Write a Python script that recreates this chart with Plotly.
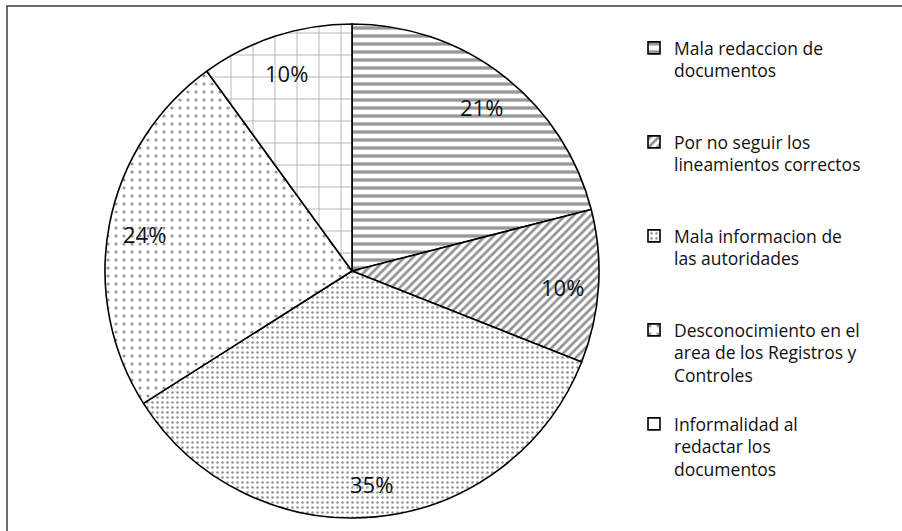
import math
import plotly.graph_objects as go

# Causes and their share of the total (percent)
categorias = [
    "Mala redaccion de<br>documentos",
    "Por no seguir los<br>lineamientos correctos",
    "Mala informacion de<br>las autoridades",
    "Desconocimiento en el<br>area de los Registros y<br>Controles",
    "Informalidad al<br>redactar los<br>documentos",
]
porcentajes = [21, 10, 35, 24, 10]

# Fill patterns per slice (black on white)
patron_forma = ["-", "/", ".", ".", "+"]
patron_tamano = [8, 6, 5, 8, 22]
patron_solidez = [0.42, 0.45, 0.2, 0.12, 0.07]
patron_color = ["#333333", "#262626", "#222222", "#262626", "#4a4a4a"]

W, H = 902, 531
CX, CY, R = 352, 271, 247  # pie centre and radius in pixels
FONT = "Open Sans"

# pad every legend entry to the same number of lines so entries are evenly spaced
def lineas(s):
    return s.count("<br>") + 1

etiquetas = [c + "<br> " * (4 - lineas(c)) for c in categorias]

fig = go.Figure()
fig.add_trace(go.Pie(
    labels=etiquetas,
    values=porcentajes,
    sort=False,
    direction="clockwise",
    rotation=0,
    textinfo="none",
    hoverinfo="label+percent",
    domain=dict(x=[(CX - R) / W, (CX + R) / W], y=[1 - (CY + R) / H, 1 - (CY - R) / H]),
    marker=dict(
        colors=["white"] * len(porcentajes),
        line=dict(color="black", width=1.6),
        pattern=dict(
            shape=patron_forma,
            size=patron_tamano,
            solidity=patron_solidez,
            fgcolor=patron_color,
            bgcolor="white",
            fillmode="overlay",
        ),
    ),
))

# percentage labels placed towards the outer edge of each slice
total = sum(porcentajes)
acum = 0
anotaciones = []
for v in porcentajes:
    theta = math.radians(360 * (acum + v / 2) / total)
    acum += v
    px = CX + 0.855 * R * math.sin(theta)
    py = CY - 0.855 * R * math.cos(theta) + 3
    anotaciones.append(dict(
        x=px / W, y=1 - py / H, xref="paper", yref="paper",
        text=f"{round(100 * v / total)}%", showarrow=False,
        font=dict(family=FONT, size=22, color="#111"),
        xanchor="center", yanchor="middle",
    ))

fig.update_layout(
    width=W, height=H,
    margin=dict(l=0, r=0, t=0, b=0),
    paper_bgcolor="white",
    plot_bgcolor="white",
    font=dict(family=FONT, color="#111"),
    showlegend=True,
    legend=dict(
        x=634 / W, xanchor="left",
        y=1 - 30 / H, yanchor="top",
        font=dict(family=FONT, size=17.5, color="#111"),
        valign="top",
        bgcolor="rgba(0,0,0,0)",
        traceorder="normal",
    ),
    annotations=anotaciones,
    shapes=[dict(
        type="rect", xref="paper", yref="paper",
        x0=7 / W, x1=1.05, y0=-0.05, y1=1 - 6 / H,
        line=dict(color="#3c3c3c", width=1.5),
        fillcolor="rgba(0,0,0,0)", layer="below",
    )],
)

fig.write_html("out.html")
